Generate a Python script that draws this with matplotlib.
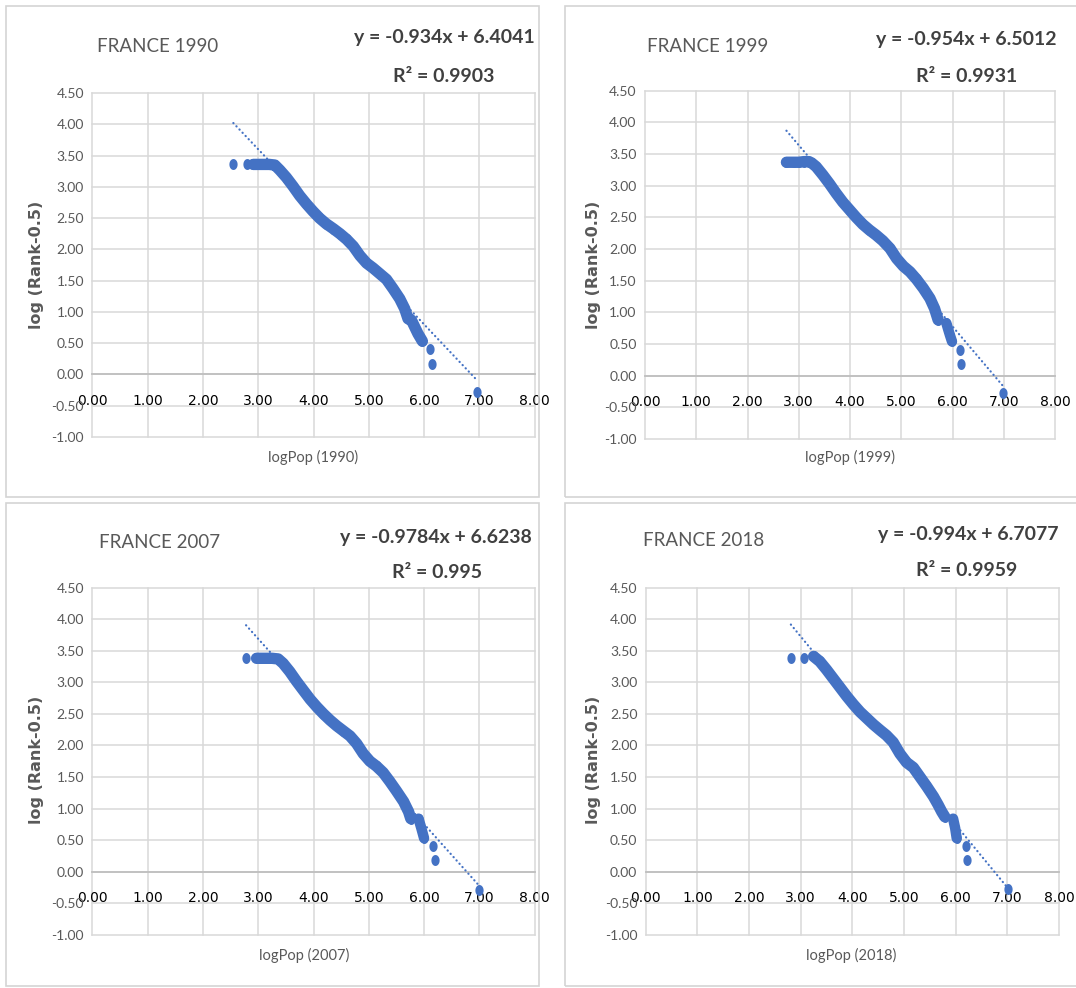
import numpy as np
import matplotlib
matplotlib.use("Agg")
import matplotlib.pyplot as plt
from matplotlib.patches import Rectangle
from matplotlib.path import Path

# ─────────────────────────────────────────────
# DATA
# ─────────────────────────────────────────────
years = ["1990", "1999", "2007", "2018"]
slopes = [-0.934, -0.954, -0.9784, -0.994]
intercepts = [6.4041, 6.5012, 6.6238, 6.7077]
eq_labels = ["y = -0.934x + 6.4041", "y = -0.954x + 6.5012",
             "y = -0.9784x + 6.6238", "y = -0.994x + 6.7077"]
r2_labels = ["R² = 0.9903", "R² = 0.9931", "R² = 0.995", "R² = 0.9959"]

# dense band of cities (logPop, log(Rank-0.5))
pop_1990 = [2.91, 3.00, 3.10, 3.20, 3.30, 3.39, 3.51, 3.63, 3.75, 3.87, 3.99, 4.11, 4.23,
            4.36, 4.48, 4.60, 4.72, 4.84, 4.96, 5.08, 5.20, 5.32, 5.44, 5.56, 5.65, 5.71,
            5.77, 5.83, 5.89, 5.97]
rank_1990 = [3.36, 3.36, 3.36, 3.36, 3.35, 3.27, 3.15, 3.01, 2.86, 2.73, 2.61, 2.50, 2.41,
             2.33, 2.25, 2.16, 2.05, 1.90, 1.78, 1.70, 1.61, 1.52, 1.37, 1.21, 1.05, 0.89,
             0.87, 0.76, 0.65, 0.53]
tail_pop_1990 = []
tail_rank_1990 = []
single_pop_1990 = [2.55, 2.79, 6.11, 6.14, 6.96]
single_rank_1990 = [3.37, 3.37, 0.40, 0.16, -0.29]

pop_1999 = [2.76, 2.90, 3.00, 3.10, 3.20, 3.25, 3.34, 3.47, 3.60, 3.73, 3.86, 3.99, 4.12,
            4.25, 4.38, 4.51, 4.64, 4.78, 4.91, 5.04, 5.17, 5.30, 5.43, 5.56, 5.65, 5.72]
rank_1999 = [3.37, 3.37, 3.37, 3.38, 3.38, 3.36, 3.30, 3.17, 3.03, 2.88, 2.74, 2.62, 2.50,
             2.39, 2.30, 2.22, 2.13, 2.01, 1.85, 1.73, 1.64, 1.52, 1.38, 1.22, 1.06, 0.88]
tail_pop_1999 = [5.88, 5.92, 5.95, 5.99]
tail_rank_1999 = [0.83, 0.72, 0.64, 0.54]
single_pop_1999 = [6.15, 6.17, 6.99]
single_rank_1999 = [0.41, 0.18, -0.28]

pop_2007 = [2.97, 3.05, 3.15, 3.25, 3.36, 3.45, 3.57, 3.69, 3.81, 3.94, 4.06, 4.18, 4.30,
            4.42, 4.54, 4.66, 4.78, 4.90, 5.02, 5.14, 5.26, 5.38, 5.50, 5.63, 5.72, 5.76]
rank_2007 = [3.38, 3.38, 3.38, 3.38, 3.37, 3.30, 3.17, 3.02, 2.88, 2.73, 2.61, 2.50, 2.40,
             2.31, 2.23, 2.15, 2.03, 1.87, 1.75, 1.67, 1.57, 1.43, 1.28, 1.11, 0.95, 0.84]
tail_pop_2007 = [5.90, 5.95, 6.00]
tail_rank_2007 = [0.84, 0.69, 0.53]
single_pop_2007 = [2.78, 6.17, 6.19, 7.00]
single_rank_2007 = [3.39, 0.40, 0.18, -0.29]

pop_2018 = [3.25, 3.37, 3.50, 3.63, 3.76, 3.89, 4.02, 4.15, 4.28, 4.41, 4.54, 4.66, 4.79,
            4.92, 5.05, 5.18, 5.31, 5.44, 5.57, 5.66, 5.73, 5.79]
rank_2018 = [3.41, 3.33, 3.20, 3.06, 2.92, 2.78, 2.65, 2.53, 2.43, 2.33, 2.24, 2.16, 2.05,
             1.87, 1.73, 1.65, 1.50, 1.35, 1.19, 1.06, 0.95, 0.87]
tail_pop_2018 = [5.95, 5.99, 6.02]
tail_rank_2018 = [0.84, 0.69, 0.53]
single_pop_2018 = [2.81, 3.06, 6.20, 6.22, 7.02]
single_rank_2018 = [3.39, 3.39, 0.41, 0.18, -0.27]

band_pop = [pop_1990, pop_1999, pop_2007, pop_2018]
band_rank = [rank_1990, rank_1999, rank_2007, rank_2018]
tail_pop = [tail_pop_1990, tail_pop_1999, tail_pop_2007, tail_pop_2018]
tail_rank = [tail_rank_1990, tail_rank_1999, tail_rank_2007, tail_rank_2018]
single_pop = [single_pop_1990, single_pop_1999, single_pop_2007, single_pop_2018]
single_rank = [single_rank_1990, single_rank_1999, single_rank_2007, single_rank_2018]

x_ticks = np.arange(0, 8.01, 1.0)
y_ticks = np.arange(-1.0, 4.51, 0.5)

# ─────────────────────────────────────────────
# LAYOUT (pixels of a 1076x988 canvas)
# ─────────────────────────────────────────────
W, H = 1076, 988
BLUE = "#4472C4"
GRAY_TXT = "#595959"
NARROW = ["Lato", "DejaVu Sans"]

# plot areas: left, top, right, bottom
axes_px = [(92.4, 93.2, 534.6, 436.8), (645, 90.7, 1055, 439),
           (92.4, 587.6, 534.6, 934.8), (645.7, 587.6, 1059, 934.8)]
frames_px = [(6, 6, 539, 497), (565, 6, 1080, 497),
             (6, 503, 539, 986), (565, 503, 1080, 986)]
title_px = [(97, 46), (647, 46), (99, 542), (643, 541)]
eq_px = [(444, 38), (966, 40), (436, 537), (968, 534)]
r2_px = [(444, 76), (967, 76), (437, 573), (967, 571)]
ylab_px = [(37, 265), (594, 265), (37, 760), (594, 760)]
xlab_px = [(313, 457), (850, 457), (304, 955), (851, 955)]


def fx(x):
    return x / W


def fy(y):
    return 1 - y / H


# slightly tall oval marker (the source screenshot is stretched vertically)
t = np.linspace(0, 2 * np.pi, 41)
oval = Path(np.column_stack([0.75 * np.cos(t), np.sin(t)]))

fig = plt.figure(figsize=(W / 100, H / 100), dpi=100)
fig.patch.set_facecolor("white")

for i, year in enumerate(years):
    # panel frame
    l, tp, r, b = frames_px[i]
    fig.add_artist(Rectangle((fx(l), fy(b)), fx(r - l), (b - tp) / H,
                             transform=fig.transFigure, fill=False,
                             edgecolor="#d4d4d4", lw=1.2))

    l, tp, r, b = axes_px[i]
    ax = fig.add_axes([fx(l), fy(b), fx(r - l), (b - tp) / H])
    ax.set_xlim(0, 8)
    ax.set_ylim(-1, 4.5)
    ax.set_xticks(x_ticks)
    ax.set_yticks(y_ticks)
    ax.set_xticklabels([f"{v:.2f}" for v in x_ticks], family=NARROW,
                       fontsize=10, color=GRAY_TXT)
    ax.set_yticklabels([f"{v:.2f}" for v in y_ticks], family=NARROW,
                       fontsize=10, color=GRAY_TXT)
    ax.tick_params(axis="both", length=0)
    ax.tick_params(axis="x", pad=14)
    ax.tick_params(axis="y", pad=6)
    for s in ["left", "right", "top"]:
        ax.spines[s].set_visible(False)
    ax.spines["bottom"].set_position(("data", 0))
    ax.spines["bottom"].set_color("#bfbfbf")
    ax.spines["bottom"].set_linewidth(1.3)
    ax.grid(True, color="#d9d9d9", lw=1.1)
    for gl in ax.get_xgridlines() + ax.get_ygridlines():
        gl.set_clip_on(False)
    ax.set_axisbelow(True)

    # cities
    ax.plot(band_pop[i], band_rank[i], color=BLUE, lw=8.2, solid_capstyle="round",
            solid_joinstyle="round", marker=oval, ms=7.9, mec="none", zorder=3)
    if tail_pop[i]:
        ax.plot(tail_pop[i], tail_rank[i], color=BLUE, lw=7.5, solid_capstyle="round",
                solid_joinstyle="round", marker=oval, ms=7.9, mec="none", zorder=3)
    ax.plot(single_pop[i], single_rank[i], ls="none", marker=oval, ms=7.9,
            color=BLUE, mec="none", zorder=3)

    # linear trendline over the data range
    all_x = band_pop[i] + tail_pop[i] + single_pop[i]
    xr = np.array([min(all_x), max(all_x)])
    ax.plot(xr, slopes[i] * xr + intercepts[i], color=BLUE, lw=1.6,
            ls=(0, (0.1, 1.9)), dash_capstyle="round", zorder=4)

    # texts
    fig.text(fx(title_px[i][0]), fy(title_px[i][1]), f"FRANCE {year}", family=NARROW,
             fontsize=13.5, color=GRAY_TXT, ha="left", va="center")
    fig.text(fx(eq_px[i][0]), fy(eq_px[i][1]), eq_labels[i], family=NARROW,
             fontsize=14, fontweight="bold", color="#404040", ha="center", va="center")
    fig.text(fx(r2_px[i][0]), fy(r2_px[i][1]), r2_labels[i], family=NARROW,
             fontsize=14, fontweight="bold", color="#404040", ha="center", va="center")
    fig.text(fx(ylab_px[i][0]), fy(ylab_px[i][1]), "log (Rank-0.5)", family="DejaVu Sans",
             fontsize=11.5, fontweight="bold", color=GRAY_TXT, rotation=90,
             ha="center", va="center")
    fig.text(fx(xlab_px[i][0]), fy(xlab_px[i][1]), f"logPop ({year})", family=NARROW,
             fontsize=10.5, color=GRAY_TXT, ha="center", va="center")

fig.savefig("out.png", dpi=100)
